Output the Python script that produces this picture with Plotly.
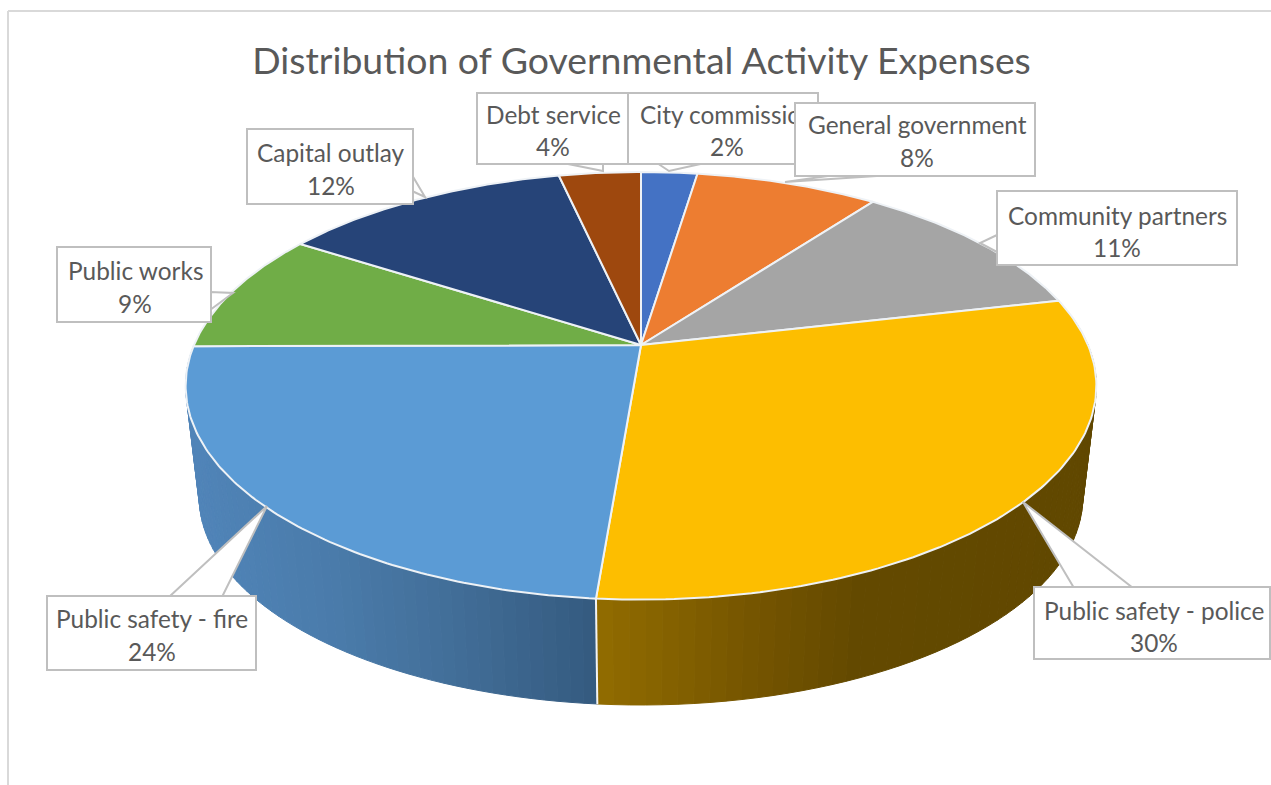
import numpy as np
import plotly.graph_objects as go

# ---- data ----
categories = ["City commission", "General government", "Community partners",
              "Public safety - police", "Public safety - fire", "Public works",
              "Capital outlay", "Debt service"]
values = [2.4, 7.8, 11.2, 29.9, 23.6, 9.2, 12.4, 3.5]
percent_labels = ["2%", "8%", "11%", "30%", "24%", "9%", "12%", "4%"]
title_text = "Distribution of Governmental Activity Expenses"

# ---- style ----
slice_colors = ["#4472C4", "#ED7D31", "#A5A5A5", "#FDBE00", "#5B9BD5", "#70AD47", "#264478", "#9E480E"]
wall_stops = {  # x pixel -> colour for the visible side wall
    3: [(597, (145, 108, 0)), (760, (116, 84, 0)), (860, (99, 73, 0)), (1100, (97, 72, 0))],
    4: [(190, (80, 132, 184)), (330, (74, 123, 170)), (450, (66, 110, 152)), (597, (52, 90, 127))],
}
TEXT = "#595959"
BOX = "#BFBFBF"
FONT = "Lato"
LABEL_SIZE = 24.4
TITLE_SIZE = 37.4

# projection of the pie's disc on the page (perspective view)
CX, CY, AX, CC, K = 641.0, 345.0, 447.0, 206.0, 0.191
WALL_SCALE, WALL_DROP = 0.97, 113.0


def project(theta, bottom=False):
    u, v = np.sin(theta), np.cos(theta)
    w = 1 + K * v
    x, y = AX * u / w, -CC * v / w
    if bottom:
        x, y = x * WALL_SCALE, y * WALL_SCALE + WALL_DROP
    return CX + x, CY + y


def wall_color(i, x):
    stops = wall_stops[i]
    xs = [s[0] for s in stops]
    rgb = [np.interp(x, xs, [s[1][c] for s in stops]) for c in range(3)]
    return "rgb(%d,%d,%d)" % tuple(int(round(c)) for c in rgb)


edges = 2 * np.pi * np.concatenate([[0], np.cumsum(values)]) / np.sum(values)

fig = go.Figure()

# side wall, cut into thin strips for the shading
for i in (3, 4):
    lo = max(edges[i], np.radians(83))
    hi = min(edges[i + 1], np.radians(277))
    grid = np.linspace(lo, hi, 60)
    for a, b in zip(grid[:-1], grid[1:]):
        t = np.linspace(a, b, 3)
        xt, yt = project(t)
        xb, yb = project(t[::-1], bottom=True)
        col = wall_color(i, float(np.mean(xt)))
        fig.add_trace(go.Scatter(x=np.r_[xt, xb, xt[0]], y=np.r_[yt, yb, yt[0]], mode="lines",
                                 fill="toself", fillcolor=col, line=dict(color=col, width=1),
                                 hoverinfo="skip", showlegend=False))

# seam of the wall between the two front slices
xa, ya = project(edges[4])
xb, yb = project(edges[4], bottom=True)
fig.add_trace(go.Scatter(x=[xa, xb], y=[ya, yb], mode="lines", line=dict(color="#F4F4F4", width=2),
                         hoverinfo="skip", showlegend=False))

# top face
for i, cat in enumerate(categories):
    t = np.linspace(edges[i], edges[i + 1], 120)
    x, y = project(t)
    fig.add_trace(go.Scatter(x=np.r_[CX, x, CX], y=np.r_[CY, y, CY], mode="lines", fill="toself",
                             fillcolor=slice_colors[i], line=dict(color="#EEF2F6", width=2),
                             name=cat, text=percent_labels[i], hoverinfo="name+text", showlegend=False))

# callouts: box x0,y0,x1,y1, tail points, name centre y, pct centre y, text centre x
callouts = [
    (7, (477, 93, 628, 164), [(563, 163), (603, 171), (603, 163)], 114, 146, 553),
    (0, (628, 93, 818, 164), [(657, 163), (669, 171), (705, 163)], 114, 146, 727),
    (1, (795, 103, 1035, 176), [(835, 175), (785, 182), (892, 175)], 124, 157, 917),
    (2, (997, 191, 1237, 265), [(997, 235), (980, 243), (997, 252)], 215, 247, 1117),
    (3, (1034, 587, 1270, 659), [(1074, 588), (1023, 502), (1133, 588)], 610, 642, 1154),
    (4, (47, 596, 256, 670), [(169, 597), (267, 506), (222, 597)], 618, 651, 152),
    (5, (57, 247, 211, 322), [(210, 292), (233, 293), (210, 310)], 270, 303, 135),
    (6, (247, 129, 413, 204), [(412, 175), (425, 197), (412, 191)], 152, 185, 331),
]

shapes = [
    dict(type="line", x0=8, y0=785, x1=8, y1=11, line=dict(color="#D9D9D9", width=2), layer="below"),
    dict(type="line", x0=8, y0=11, x1=1271, y1=11, line=dict(color="#D9D9D9", width=2), layer="below"),
]
annotations = []
for idx, box, tail, yn, yp, xc in callouts:
    path = "M " + " L ".join("%g,%g" % p for p in tail) + " Z"
    shapes.append(dict(type="path", path=path, fillcolor="white", line=dict(color=BOX, width=2), layer="above"))
    x0, y0, x1, y1 = box
    annotations.append(dict(x=(x0 + x1) / 2, y=(y0 + y1) / 2, xref="x", yref="y", text=" ", showarrow=False,
                            width=x1 - x0 - 2, height=y1 - y0 - 2, bgcolor="white", bordercolor=BOX,
                            borderwidth=2, borderpad=0, font=dict(size=4)))
    annotations.append(dict(x=xc, y=yn, xref="x", yref="y", text=categories[idx], showarrow=False,
                            font=dict(family=FONT, size=LABEL_SIZE, color=TEXT)))
    annotations.append(dict(x=xc, y=yp, xref="x", yref="y", text=percent_labels[idx], showarrow=False,
                            font=dict(family=FONT, size=LABEL_SIZE, color=TEXT)))

fig.update_layout(
    width=1271, height=785, autosize=False,
    margin=dict(l=0, r=0, t=0, b=0),
    paper_bgcolor="white", plot_bgcolor="white",
    title=dict(text=title_text, x=641.5 / 1271, xanchor="center", y=1 - 61 / 785, yanchor="middle",
               font=dict(family=FONT, size=TITLE_SIZE, color=TEXT)),
    xaxis=dict(range=[0, 1271], visible=False, fixedrange=True),
    yaxis=dict(range=[785, 0], visible=False, fixedrange=True),
    shapes=shapes, annotations=annotations, showlegend=False,
)
fig.write_html("out.html", post_script="document.body.style.margin='0';document.body.style.overflow='hidden';",
               config={"displayModeBar": False})
